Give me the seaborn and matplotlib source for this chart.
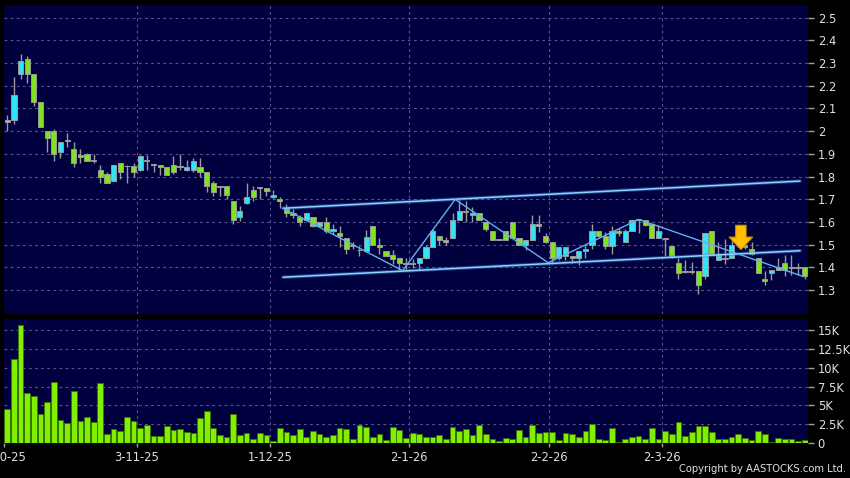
import matplotlib
matplotlib.use("Agg")
import matplotlib.pyplot as plt
import numpy as np
import pandas as pd
import seaborn as sns

# Daily OHLC, one value per trading day (Oct 2025 - Mar 2026)
opens = [2.04, 2.05, 2.25, 2.32, 2.25, 2.13, 2.00, 2.00, 1.91, 1.96,
         1.92, 1.895, 1.90, 1.87, 1.83, 1.81, 1.78, 1.86, 1.845, 1.845,
         1.83, 1.875, 1.85, 1.85, 1.84, 1.85, 1.845, 1.83, 1.83, 1.84,
         1.82, 1.77, 1.755, 1.76, 1.69, 1.62, 1.685, 1.74, 1.75, 1.75,
         1.71, 1.70, 1.66, 1.64, 1.62, 1.61, 1.62, 1.58, 1.60, 1.56,
         1.55, 1.53, 1.50, 1.475, 1.47, 1.58, 1.50, 1.47, 1.455, 1.44,
         1.42, 1.415, 1.42, 1.44, 1.49, 1.54, 1.51, 1.53, 1.61, 1.65,
         1.63, 1.64, 1.60, 1.56, 1.52, 1.56, 1.60, 1.53, 1.50, 1.52,
         1.59, 1.54, 1.51, 1.44, 1.45, 1.45, 1.44, 1.47, 1.50, 1.56,
         1.54, 1.495, 1.56, 1.51, 1.56, 1.61, 1.61, 1.59, 1.53, 1.53,
         1.495, 1.42, 1.38, 1.38, 1.385, 1.36, 1.56, 1.43, 1.44, 1.44,
         1.50, 1.50, 1.48, 1.44, 1.35, 1.375, 1.39, 1.42, 1.40, 1.395,
         1.40]
highs = [2.07, 2.24, 2.34, 2.33, 2.25, 2.13, 2.00, 2.01, 1.95, 1.99,
         1.95, 1.92, 1.905, 1.90, 1.85, 1.82, 1.85, 1.86, 1.85, 1.86,
         1.895, 1.895, 1.85, 1.85, 1.84, 1.89, 1.90, 1.875, 1.88, 1.88,
         1.82, 1.78, 1.76, 1.76, 1.69, 1.67, 1.77, 1.76, 1.75, 1.75,
         1.74, 1.71, 1.68, 1.655, 1.63, 1.64, 1.62, 1.60, 1.62, 1.59,
         1.58, 1.53, 1.51, 1.495, 1.565, 1.58, 1.53, 1.47, 1.475, 1.44,
         1.44, 1.435, 1.44, 1.50, 1.57, 1.54, 1.535, 1.64, 1.695, 1.69,
         1.665, 1.64, 1.60, 1.56, 1.52, 1.56, 1.60, 1.53, 1.52, 1.63,
         1.63, 1.55, 1.51, 1.49, 1.49, 1.45, 1.47, 1.50, 1.59, 1.56,
         1.555, 1.58, 1.575, 1.57, 1.61, 1.61, 1.61, 1.59, 1.585, 1.53,
         1.495, 1.44, 1.43, 1.425, 1.385, 1.55, 1.56, 1.51, 1.525, 1.525,
         1.52, 1.51, 1.51, 1.44, 1.385, 1.39, 1.44, 1.455, 1.455, 1.42,
         1.40]
lows = [2.00, 2.03, 2.23, 2.21, 2.11, 2.02, 1.91, 1.87, 1.88, 1.93,
        1.84, 1.86, 1.87, 1.86, 1.77, 1.77, 1.78, 1.79, 1.77, 1.80,
        1.825, 1.83, 1.82, 1.805, 1.805, 1.81, 1.83, 1.825, 1.82, 1.80,
        1.73, 1.715, 1.715, 1.70, 1.59, 1.605, 1.68, 1.69, 1.70, 1.715,
        1.70, 1.66, 1.62, 1.615, 1.58, 1.607, 1.578, 1.578, 1.55, 1.545,
        1.49, 1.46, 1.48, 1.45, 1.468, 1.50, 1.46, 1.45, 1.415, 1.39,
        1.385, 1.395, 1.39, 1.437, 1.49, 1.50, 1.50, 1.53, 1.61, 1.60,
        1.60, 1.607, 1.56, 1.52, 1.52, 1.52, 1.53, 1.50, 1.475, 1.52,
        1.555, 1.505, 1.415, 1.43, 1.43, 1.42, 1.41, 1.44, 1.48, 1.53,
        1.48, 1.46, 1.54, 1.51, 1.56, 1.55, 1.58, 1.53, 1.53, 1.45,
        1.44, 1.35, 1.375, 1.37, 1.28, 1.35, 1.455, 1.43, 1.415, 1.44,
        1.49, 1.48, 1.455, 1.373, 1.32, 1.345, 1.39, 1.36, 1.365, 1.365,
        1.35]
closes = [2.05, 2.16, 2.31, 2.25, 2.13, 2.02, 1.97, 1.90, 1.95, 1.955,
          1.86, 1.885, 1.87, 1.87, 1.80, 1.77, 1.85, 1.82, 1.845, 1.82,
          1.89, 1.87, 1.85, 1.84, 1.805, 1.82, 1.84, 1.84, 1.87, 1.82,
          1.76, 1.73, 1.755, 1.72, 1.61, 1.65, 1.71, 1.71, 1.75, 1.735,
          1.72, 1.69, 1.64, 1.63, 1.60, 1.64, 1.58, 1.60, 1.56, 1.57,
          1.54, 1.48, 1.495, 1.475, 1.535, 1.50, 1.49, 1.45, 1.435, 1.42,
          1.415, 1.42, 1.44, 1.49, 1.56, 1.52, 1.52, 1.61, 1.65, 1.645,
          1.64, 1.61, 1.57, 1.52, 1.52, 1.52, 1.53, 1.50, 1.52, 1.59,
          1.58, 1.51, 1.44, 1.49, 1.49, 1.44, 1.47, 1.48, 1.56, 1.54,
          1.495, 1.56, 1.55, 1.56, 1.61, 1.61, 1.585, 1.53, 1.56, 1.525,
          1.45, 1.375, 1.38, 1.38, 1.32, 1.55, 1.455, 1.455, 1.435, 1.50,
          1.51, 1.49, 1.46, 1.375, 1.34, 1.39, 1.40, 1.39, 1.395, 1.40,
          1.36]
# Volume in thousands of shares
volumes_k = [4.48, 11.1, 15.7, 6.66, 6.26, 3.9, 5.46, 8.08, 3.0, 2.66,
             6.88, 2.97, 3.5, 2.84, 8.0, 1.2, 1.86, 1.6, 3.46, 2.9,
             2.0, 2.4, 0.93, 0.9, 2.2, 1.78, 1.9, 1.46, 1.3, 3.3,
             4.2, 2.0, 1.0, 0.85, 3.8, 1.0, 1.33, 0.53, 1.33, 1.1,
             0.22, 2.0, 1.4, 1.0, 1.9, 0.8, 1.6, 1.15, 0.85, 1.1,
             2.0, 1.9, 0.58, 2.44, 2.1, 0.75, 1.2, 0.4, 2.17, 1.73,
             0.67, 1.3, 1.15, 0.84, 0.8, 1.07, 0.53, 2.09, 1.55, 1.86,
             1.02, 2.4, 1.15, 0.53, 0.27, 0.71, 0.58, 1.78, 0.84, 2.44,
             1.33, 1.5, 1.42, 0.4, 1.38, 1.2, 0.8, 1.64, 2.53, 0.58,
             0.44, 2.0, 0.13, 0.53, 0.8, 0.89, 0.58, 1.95, 0.53, 1.64,
             1.24, 2.8, 0.98, 1.46, 2.26, 2.22, 1.46, 0.49, 0.53, 0.75,
             1.15, 0.62, 0.36, 1.6, 1.2, 0.13, 0.67, 0.58, 0.53, 0.27,
             0.44]

# Month boundaries (bar index) and their date labels
month_ticks = [-0.5, 19.5, 39.5, 60.5, 81.5, 98.5]
month_labels = ["2-10-25", "3-11-25", "1-12-25", "2-1-26", "2-2-26", "2-3-26"]
price_ticks = [1.3, 1.4, 1.5, 1.6, 1.7, 1.8, 1.9, 2.0, 2.1, 2.2, 2.3, 2.4, 2.5]
vol_ticks = [0, 2.5, 5, 7.5, 10, 12.5, 15]
vol_labels = ["0", "2.5K", "5K", "7.5K", "10K", "12.5K", "15K"]

# Hand-drawn trend lines (bar index, price)
upper_x = [41.5, 119.3]
upper_y = [1.66, 1.78]
lower_x = [41.5, 119.3]
lower_y = [1.356, 1.473]
zigzag_x = [41.5, 59.5, 67.4, 81.4, 95.0, 119.8]
zigzag_y = [1.66, 1.385, 1.699, 1.42, 1.611, 1.359]
signal_x = 110.4
signal_from = 1.585
signal_to = 1.478

df = pd.DataFrame({"open": opens, "high": highs, "low": lows,
                   "close": closes, "volume": volumes_k})
df["bar"] = np.arange(len(df))

sns.set_theme(style="dark")
plt.rcParams["font.family"] = ["DejaVu Sans"]

BG = "#00003f"
GRID = "#56568a"
TXT = "#e0e0e0"
UP = "#30e6f6"
DOWN = "#80e41c"
EDGE = "#9a9a9a"

fig = plt.figure(figsize=(8.5, 4.78), dpi=100)
fig.patch.set_facecolor("black")
ax = fig.add_axes([4 / 850, 164 / 478, 804 / 850, 309 / 478])
axv = fig.add_axes([4 / 850, 35 / 478, 804 / 850, 124 / 478])

# Volume bars
sns.barplot(data=df, x="bar", y="volume", ax=axv, color="#80f000",
            edgecolor="#3c7000", linewidth=0.6, width=0.86,
            errorbar=None, saturation=1, zorder=3)

# Candles: wicks then bodies
x = df["bar"].values
ax.vlines(x, df["low"], df["high"], color=EDGE, linewidth=1.0, zorder=3)
body_lo = np.minimum(df["open"], df["close"])
body_h = np.maximum(np.abs(df["close"] - df["open"]), 0.003)
colors = np.where(df["close"] > df["open"], UP,
                  np.where(df["close"] < df["open"], DOWN, EDGE))
ax.bar(x, body_h, bottom=body_lo, width=0.78, color=colors,
       edgecolor=EDGE, linewidth=0.7, zorder=4)

# Trend lines (channel has a soft glow)
for lw, col, alpha in ((2.6, "#3a7fd0", 0.45), (1.1, "#8fd0ff", 1.0)):
    ax.plot(upper_x, upper_y, color=col, linewidth=lw, alpha=alpha, zorder=5)
    ax.plot(lower_x, lower_y, color=col, linewidth=lw, alpha=alpha, zorder=5)
ax.plot(zigzag_x, zigzag_y, color="#5fb2ea", linewidth=1.0, zorder=5)

# Signal arrow
ax.annotate("", xy=(signal_x, signal_to), xytext=(signal_x, signal_from),
            arrowprops=dict(arrowstyle="simple,head_width=1.7,head_length=0.9,tail_width=0.75",
                            fc="#ffc000", ec="#d88a00", lw=0.8,
                            mutation_scale=10, shrinkA=0, shrinkB=0),
            zorder=6)

for a in (ax, axv):
    a.set_facecolor(BG)
    a.set_xlim(-0.5, len(df) - 0.5)
    for s in a.spines.values():
        s.set_visible(False)
    a.yaxis.tick_right()
    a.tick_params(axis="y", colors="#a0a0a0", labelcolor=TXT, length=4,
                  width=1, pad=3, labelsize=8.3, direction="out", right=True)
    a.set_xlabel("")
    a.set_ylabel("")
    a.grid(False)
    for t in month_ticks[1:]:
        a.axvline(t, color=GRID, linewidth=0.8, linestyle=(0, (2.5, 3)), zorder=1)

ax.set_ylim(1.194, 2.556)
ax.set_yticks(price_ticks)
ax.set_yticklabels([f"{p:g}" for p in price_ticks])
for p in price_ticks:
    ax.axhline(p, color=GRID, linewidth=0.8, linestyle=(0, (2.5, 3)), zorder=1)
ax.set_xticks([])

axv.set_ylim(0, 16.47)
axv.set_yticks(vol_ticks)
axv.set_yticklabels(vol_labels)
for v in vol_ticks[1:]:
    axv.axhline(v, color=GRID, linewidth=0.8, linestyle=(0, (2.5, 3)), zorder=1)
axv.set_xticks(month_ticks)
axv.set_xticklabels(month_labels)
axv.tick_params(axis="x", colors="#a0a0a0", labelcolor=TXT, length=3,
                width=1, pad=3, labelsize=8.3, bottom=True)

fig.text(0.995, 0.008, "Copyright by AASTOCKS.com Ltd.", ha="right",
         va="bottom", color=TXT, fontsize=7.2)

fig.savefig("out.png", dpi=100, facecolor=fig.get_facecolor())
